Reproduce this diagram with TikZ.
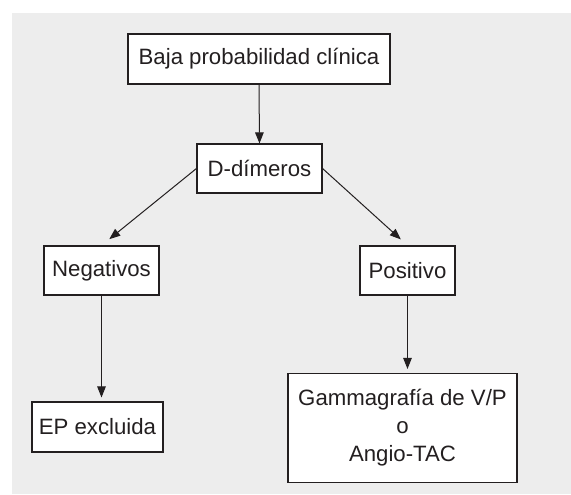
\documentclass[tikz,border=0pt]{standalone}
\usepackage{fontspec}
\setmainfont{Liberation Sans}
\usetikzlibrary{arrows.meta}
\definecolor{bg}{HTML}{EDEDED}
\definecolor{ink}{HTML}{231F20}
\begin{document}
\begin{tikzpicture}[x=1pt,y=-1pt,
  box/.style={draw=ink,line width=1.1pt,fill=white,text=ink,inner sep=0pt,
    font=\fontsize{22.2}{28}\selectfont,align=center},
  arr/.style={draw=ink,line width=1pt,-{Triangle[length=11pt,width=8.5pt]}}]
\useasboundingbox (0,0) rectangle (571,495);
\fill[bg] (12,13) rectangle (571,494);
\node[box,minimum width=262pt,minimum height=50pt] (top) at (259,59) {Baja probabilidad clínica};
\node[box,minimum width=125pt,minimum height=49pt] (dd) at (259.5,168.5) {D-dímeros};
\node[box,minimum width=115pt,minimum height=49pt] (neg) at (101.5,270.5) {Negativos};
\node[box,minimum width=95pt,minimum height=49pt] (pos) at (407.5,270.5) {Positivo};
\node[box,minimum width=131pt,minimum height=50pt] (ep) at (97.5,427) {EP excluida};
\node[box,minimum width=229pt,minimum height=109pt] (gam) at (402.5,428) {Gammagrafía de V/P\\o\\Angio-TAC};
\draw[arr] (top.south) -- (dd.north);
\draw[arr,shorten >=10pt] (dd.west) -- (neg.north);
\draw[arr,shorten >=9pt] (dd.east) -- (pos.north);
\draw[arr,shorten >=4pt] (neg.south) -- (neg.south |- ep.north);
\draw[arr,shorten >=4pt] (pos.south) -- (pos.south |- gam.north);
\end{tikzpicture}
\end{document}
